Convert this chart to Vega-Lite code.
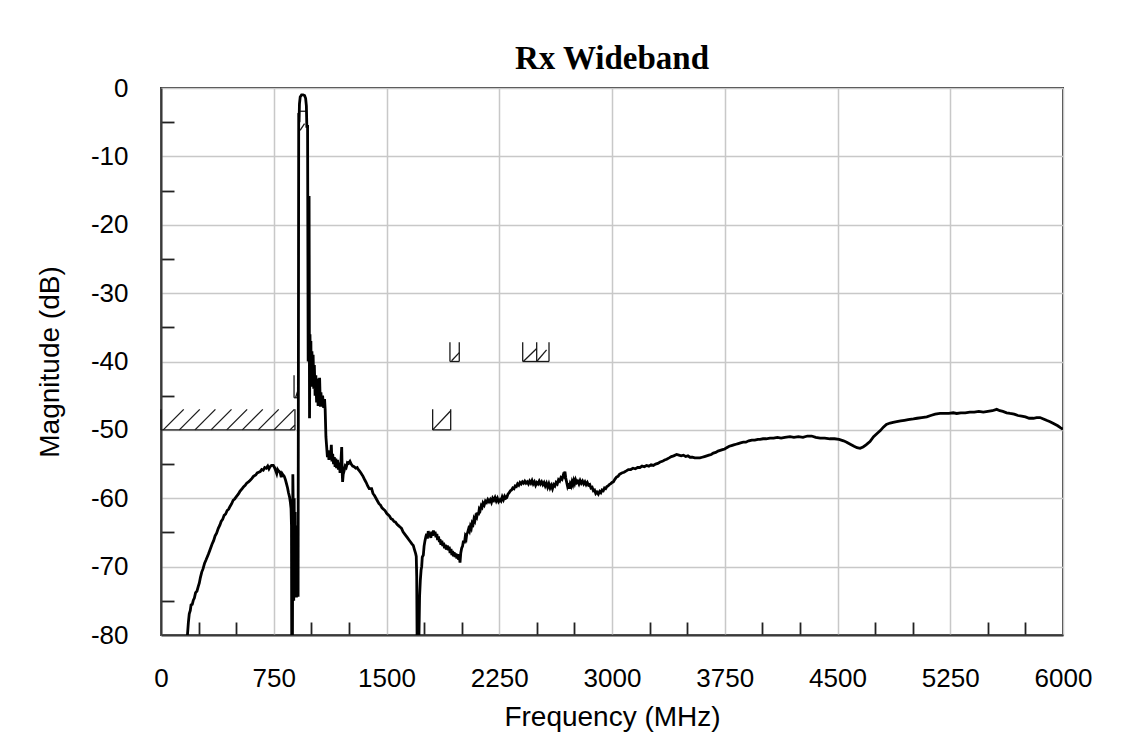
{
  "$schema": "https://vega.github.io/schema/vega-lite/v6.json",
  "width": 902,
  "height": 547,
  "autosize": {"type": "none"},
  "padding": {"left": 161, "top": 88, "right": 63, "bottom": 121},
  "background": "white",
  "title": {"text": "Rx Wideband", "font": "Liberation Serif", "fontSize": 33, "fontWeight": "bold", "color": "black", "anchor": "middle", "frame": "group", "offset": -1},
  "config": {
    "view": {"stroke": "#3a3a3a", "strokeWidth": 2},
    "axis": {
      "domainColor": "#3a3a3a", "domainWidth": 2,
      "gridColor": "#c8c8c8", "gridWidth": 1.5,
      "tickColor": "#222222", "tickWidth": 1.8, "tickSize": -13,
      "labelFont": "Liberation Sans", "labelFontSize": 26, "labelColor": "black",
      "labelOverlap": false, "labelFlush": false,
      "titleFont": "Liberation Sans", "titleFontSize": 28, "titleFontWeight": "normal", "titleColor": "black"
    }
  },
  "datasets": {
    "trace": [
      {"f":165,"m":-84},{"f":175,"m":-80.3},{"f":182,"m":-78.2},{"f":188,"m":-76.9},{"f":195,"m":-76.4},{"f":200,"m":-75.6},{"f":208,"m":-75.5},{"f":215,"m":-74.9},{"f":222,"m":-74.6},{"f":230,"m":-73.8},{"f":239,"m":-73.6},{"f":248,"m":-72.9},{"f":255,"m":-72.4},{"f":262,"m":-71.6},{"f":271,"m":-70.8},{"f":280,"m":-70.3},{"f":290,"m":-69.5},{"f":300,"m":-69.0},{"f":315,"m":-68.2},{"f":325,"m":-67.6},{"f":340,"m":-66.7},{"f":350,"m":-66.2},{"f":360,"m":-65.5},{"f":370,"m":-65.1},{"f":381,"m":-64.4},{"f":392,"m":-63.9},{"f":400,"m":-63.4},{"f":410,"m":-63.1},{"f":420,"m":-62.5},{"f":430,"m":-62.3},{"f":440,"m":-61.8},{"f":450,"m":-61.6},{"f":459,"m":-61.2},{"f":470,"m":-60.8},{"f":480,"m":-60.3},{"f":490,"m":-60.1},{"f":500,"m":-59.8},{"f":514,"m":-59.4},{"f":525,"m":-59.0},{"f":540,"m":-58.6},{"f":550,"m":-58.3},{"f":560,"m":-58.1},{"f":570,"m":-57.8},{"f":582,"m":-57.6},{"f":592,"m":-57.4},{"f":605,"m":-57.1},{"f":615,"m":-56.8},{"f":630,"m":-56.6},{"f":640,"m":-56.3},{"f":650,"m":-56.2},{"f":660,"m":-56.1},{"f":670,"m":-55.8},{"f":680,"m":-55.9},{"f":690,"m":-55.5},{"f":700,"m":-55.6},{"f":710,"m":-55.3},{"f":718,"m":-55.7},{"f":725,"m":-55.4},{"f":735,"m":-55.2},{"f":747,"m":-55.2},{"f":755,"m":-55.5},{"f":762,"m":-55.9},{"f":770,"m":-56.4},{"f":776,"m":-55.8},{"f":782,"m":-56.0},{"f":792,"m":-56.2},{"f":800,"m":-56.9},{"f":806,"m":-56.4},{"f":812,"m":-56.6},{"f":820,"m":-56.8},{"f":828,"m":-57.3},{"f":835,"m":-57.9},{"f":842,"m":-58.5},{"f":848,"m":-59.2},{"f":855,"m":-59.8},{"f":860,"m":-60.5},{"f":865,"m":-61.5},{"f":868,"m":-64},{"f":870,"m":-86},{"f":874,"m":-86},{"f":877,"m":-56.5},{"f":880,"m":-62},{"f":883,"m":-75},{"f":886,"m":-60},{"f":889,"m":-74.5},{"f":892,"m":-62},{"f":895,"m":-74.5},{"f":898,"m":-64},{"f":901,"m":-74.5},{"f":904,"m":-66},{"f":907,"m":-73.5},{"f":910,"m":-66},{"f":912,"m":-74.4},{"f":914,"m":-40},{"f":916,"m":-4.3},{"f":919,"m":-4.4},{"f":921,"m":-2.3},{"f":926,"m":-1.3},{"f":935,"m":-1.0},{"f":945,"m":-1.0},{"f":955,"m":-1.1},{"f":962,"m":-1.5},{"f":967,"m":-2.6},{"f":970,"m":-5.6},{"f":975,"m":-5.6},{"f":979,"m":-40},{"f":983,"m":-19.3},{"f":985,"m":-15.8},{"f":988,"m":-48.3},{"f":991,"m":-36},{"f":994,"m":-40.5},{"f":997,"m":-37},{"f":1000,"m":-43.7},{"f":1004,"m":-38.5},{"f":1008,"m":-42},{"f":1012,"m":-39},{"f":1016,"m":-44},{"f":1020,"m":-40.5},{"f":1025,"m":-45},{"f":1030,"m":-42},{"f":1035,"m":-46},{"f":1040,"m":-42.5},{"f":1045,"m":-46.5},{"f":1050,"m":-43.5},{"f":1055,"m":-42.4},{"f":1060,"m":-46.6},{"f":1064,"m":-44.5},{"f":1069,"m":-46.6},{"f":1075,"m":-45},{"f":1082,"m":-46.8},{"f":1088,"m":-45.5},{"f":1092,"m":-47},{"f":1097,"m":-51},{"f":1102,"m":-52.5},{"f":1107,"m":-54},{"f":1112,"m":-53},{"f":1117,"m":-54.4},{"f":1122,"m":-53.2},{"f":1128,"m":-54.3},{"f":1133,"m":-52.2},{"f":1137,"m":-54.6},{"f":1142,"m":-53.5},{"f":1148,"m":-55},{"f":1153,"m":-54},{"f":1158,"m":-55.4},{"f":1163,"m":-54.2},{"f":1168,"m":-55.6},{"f":1174,"m":-54.4},{"f":1180,"m":-55.8},{"f":1186,"m":-54.8},{"f":1191,"m":-56.3},{"f":1196,"m":-55},{"f":1202,"m":-52.5},{"f":1205,"m":-56},{"f":1208,"m":-57.6},{"f":1212,"m":-56.5},{"f":1218,"m":-56},{"f":1225,"m":-55.3},{"f":1232,"m":-55.5},{"f":1240,"m":-54.8},{"f":1248,"m":-54.9},{"f":1257,"m":-54.6},{"f":1265,"m":-55.0},{"f":1275,"m":-55.3},{"f":1285,"m":-55.4},{"f":1295,"m":-55.6},{"f":1305,"m":-55.5},{"f":1312,"m":-55.8},{"f":1320,"m":-56.0},{"f":1330,"m":-56.3},{"f":1344,"m":-56.8},{"f":1355,"m":-57.3},{"f":1365,"m":-57.7},{"f":1375,"m":-58.2},{"f":1385,"m":-58.6},{"f":1401,"m":-58.6},{"f":1410,"m":-59.3},{"f":1420,"m":-59.6},{"f":1430,"m":-60.0},{"f":1440,"m":-60.4},{"f":1450,"m":-60.8},{"f":1460,"m":-61.0},{"f":1470,"m":-61.4},{"f":1480,"m":-61.6},{"f":1490,"m":-61.8},{"f":1501,"m":-62.2},{"f":1510,"m":-62.4},{"f":1520,"m":-62.6},{"f":1530,"m":-63.0},{"f":1540,"m":-63.1},{"f":1550,"m":-63.4},{"f":1560,"m":-63.5},{"f":1570,"m":-63.8},{"f":1580,"m":-64.0},{"f":1590,"m":-64.2},{"f":1600,"m":-64.4},{"f":1610,"m":-64.9},{"f":1620,"m":-65.2},{"f":1630,"m":-65.5},{"f":1640,"m":-65.8},{"f":1650,"m":-66.1},{"f":1660,"m":-66.4},{"f":1670,"m":-66.7},{"f":1678,"m":-66.9},{"f":1686,"m":-67.5},{"f":1694,"m":-68.1},{"f":1698,"m":-68.5},{"f":1701,"m":-71.5},{"f":1705,"m":-86},{"f":1710,"m":-86},{"f":1716,"m":-80},{"f":1720,"m":-74.4},{"f":1725,"m":-72},{"f":1730,"m":-70.5},{"f":1734,"m":-70},{"f":1738,"m":-68.6},{"f":1745,"m":-68.3},{"f":1750,"m":-67},{"f":1756,"m":-66.2},{"f":1762,"m":-65.6},{"f":1767,"m":-65.2},{"f":1772,"m":-65.9},{"f":1778,"m":-64.8},{"f":1784,"m":-65.6},{"f":1789,"m":-65.1},{"f":1795,"m":-65.8},{"f":1800,"m":-64.9},{"f":1806,"m":-65.5},{"f":1812,"m":-64.7},{"f":1818,"m":-65.4},{"f":1823,"m":-64.9},{"f":1829,"m":-65.7},{"f":1835,"m":-65.2},{"f":1840,"m":-66.1},{"f":1846,"m":-65.6},{"f":1852,"m":-66.4},{"f":1856,"m":-66.0},{"f":1862,"m":-66.8},{"f":1868,"m":-66.2},{"f":1874,"m":-67.0},{"f":1880,"m":-66.5},{"f":1886,"m":-67.3},{"f":1892,"m":-66.8},{"f":1898,"m":-67.5},{"f":1905,"m":-66.9},{"f":1911,"m":-67.6},{"f":1917,"m":-67.1},{"f":1923,"m":-68.0},{"f":1929,"m":-67.4},{"f":1935,"m":-68.3},{"f":1940,"m":-67.7},{"f":1945,"m":-68.5},{"f":1950,"m":-67.9},{"f":1956,"m":-68.6},{"f":1962,"m":-68.1},{"f":1968,"m":-68.8},{"f":1974,"m":-68.2},{"f":1980,"m":-69.0},{"f":1984,"m":-68.4},{"f":1989,"m":-69.4},{"f":1994,"m":-68.0},{"f":2000,"m":-67.3},{"f":2006,"m":-67.0},{"f":2012,"m":-66.2},{"f":2018,"m":-66.6},{"f":2024,"m":-65.6},{"f":2030,"m":-65.9},{"f":2034,"m":-65.2},{"f":2040,"m":-65.0},{"f":2046,"m":-64.5},{"f":2052,"m":-64.8},{"f":2058,"m":-64.1},{"f":2064,"m":-64.4},{"f":2070,"m":-63.6},{"f":2076,"m":-63.8},{"f":2082,"m":-63.0},{"f":2088,"m":-63.3},{"f":2094,"m":-62.6},{"f":2100,"m":-62.8},{"f":2106,"m":-62.1},{"f":2111,"m":-62.5},{"f":2117,"m":-61.6},{"f":2123,"m":-61.8},{"f":2130,"m":-61.1},{"f":2136,"m":-61.3},{"f":2142,"m":-60.7},{"f":2150,"m":-61.0},{"f":2158,"m":-60.4},{"f":2166,"m":-60.6},{"f":2174,"m":-60.2},{"f":2182,"m":-60.5},{"f":2190,"m":-60.2},{"f":2198,"m":-60.6},{"f":2206,"m":-60.0},{"f":2214,"m":-60.3},{"f":2222,"m":-59.9},{"f":2230,"m":-60.4},{"f":2238,"m":-60.0},{"f":2246,"m":-60.5},{"f":2255,"m":-60.2},{"f":2262,"m":-60.4},{"f":2270,"m":-59.8},{"f":2278,"m":-60.2},{"f":2286,"m":-59.7},{"f":2294,"m":-60.0},{"f":2300,"m":-59.9},{"f":2308,"m":-59.4},{"f":2316,"m":-59.2},{"f":2324,"m":-58.9},{"f":2332,"m":-58.8},{"f":2340,"m":-58.5},{"f":2348,"m":-58.6},{"f":2356,"m":-58.2},{"f":2364,"m":-58.3},{"f":2372,"m":-57.9},{"f":2380,"m":-58.1},{"f":2388,"m":-57.7},{"f":2396,"m":-57.9},{"f":2404,"m":-57.6},{"f":2412,"m":-57.8},{"f":2420,"m":-57.5},{"f":2428,"m":-57.8},{"f":2436,"m":-57.6},{"f":2444,"m":-57.9},{"f":2452,"m":-57.5},{"f":2460,"m":-57.8},{"f":2468,"m":-57.4},{"f":2476,"m":-57.9},{"f":2484,"m":-57.6},{"f":2492,"m":-58.1},{"f":2500,"m":-57.7},{"f":2508,"m":-57.9},{"f":2516,"m":-57.5},{"f":2524,"m":-57.9},{"f":2532,"m":-57.6},{"f":2540,"m":-58.0},{"f":2548,"m":-57.7},{"f":2556,"m":-58.2},{"f":2564,"m":-57.8},{"f":2572,"m":-58.4},{"f":2580,"m":-57.9},{"f":2588,"m":-58.5},{"f":2596,"m":-58.1},{"f":2604,"m":-58.6},{"f":2612,"m":-58.0},{"f":2620,"m":-58.2},{"f":2628,"m":-57.7},{"f":2636,"m":-57.9},{"f":2644,"m":-57.3},{"f":2652,"m":-57.5},{"f":2660,"m":-57.0},{"f":2668,"m":-57.2},{"f":2676,"m":-56.6},{"f":2682,"m":-56.8},{"f":2687,"m":-56.1},{"f":2692,"m":-57.0},{"f":2698,"m":-57.6},{"f":2704,"m":-58.2},{"f":2710,"m":-57.8},{"f":2716,"m":-58.6},{"f":2722,"m":-57.9},{"f":2728,"m":-58.2},{"f":2734,"m":-57.6},{"f":2740,"m":-58.0},{"f":2746,"m":-57.4},{"f":2752,"m":-57.8},{"f":2758,"m":-57.3},{"f":2765,"m":-57.7},{"f":2772,"m":-57.5},{"f":2780,"m":-57.9},{"f":2788,"m":-57.4},{"f":2796,"m":-57.8},{"f":2804,"m":-57.5},{"f":2812,"m":-57.9},{"f":2820,"m":-57.6},{"f":2828,"m":-58.0},{"f":2836,"m":-57.7},{"f":2844,"m":-58.1},{"f":2852,"m":-58.0},{"f":2860,"m":-58.5},{"f":2868,"m":-58.4},{"f":2876,"m":-58.9},{"f":2884,"m":-58.8},{"f":2892,"m":-59.3},{"f":2900,"m":-59.1},{"f":2909,"m":-59.4},{"f":2918,"m":-59.0},{"f":2926,"m":-59.2},{"f":2934,"m":-58.8},{"f":2942,"m":-58.9},{"f":2950,"m":-58.5},{"f":2958,"m":-58.6},{"f":2966,"m":-58.3},{"f":2974,"m":-58.2},{"f":2982,"m":-58.0},{"f":2990,"m":-57.9},{"f":3000,"m":-57.7},{"f":3009,"m":-57.6},{"f":3020,"m":-57.2},{"f":3030,"m":-56.9},{"f":3040,"m":-56.8},{"f":3050,"m":-56.5},{"f":3065,"m":-56.3},{"f":3080,"m":-56.2},{"f":3095,"m":-56.0},{"f":3109,"m":-55.8},{"f":3125,"m":-55.8},{"f":3140,"m":-55.6},{"f":3155,"m":-55.7},{"f":3170,"m":-55.5},{"f":3186,"m":-55.5},{"f":3200,"m":-55.3},{"f":3215,"m":-55.4},{"f":3230,"m":-55.2},{"f":3245,"m":-55.3},{"f":3260,"m":-55.1},{"f":3275,"m":-55.2},{"f":3290,"m":-55.0},{"f":3305,"m":-54.9},{"f":3320,"m":-54.7},{"f":3335,"m":-54.6},{"f":3350,"m":-54.4},{"f":3364,"m":-54.3},{"f":3380,"m":-54.1},{"f":3395,"m":-53.9},{"f":3410,"m":-53.8},{"f":3430,"m":-53.6},{"f":3445,"m":-53.7},{"f":3460,"m":-53.8},{"f":3475,"m":-53.7},{"f":3490,"m":-53.9},{"f":3505,"m":-53.8},{"f":3519,"m":-54.0},{"f":3535,"m":-54.0},{"f":3550,"m":-54.1},{"f":3565,"m":-54.1},{"f":3585,"m":-54.1},{"f":3600,"m":-54.0},{"f":3615,"m":-53.9},{"f":3630,"m":-53.8},{"f":3645,"m":-53.7},{"f":3660,"m":-53.6},{"f":3674,"m":-53.4},{"f":3690,"m":-53.3},{"f":3705,"m":-53.1},{"f":3720,"m":-53.0},{"f":3735,"m":-52.9},{"f":3750,"m":-52.8},{"f":3763,"m":-52.6},{"f":3780,"m":-52.4},{"f":3795,"m":-52.3},{"f":3810,"m":-52.2},{"f":3825,"m":-52.1},{"f":3840,"m":-52.0},{"f":3855,"m":-51.9},{"f":3873,"m":-51.8},{"f":3890,"m":-51.8},{"f":3910,"m":-51.6},{"f":3930,"m":-51.5},{"f":3950,"m":-51.5},{"f":3970,"m":-51.4},{"f":3985,"m":-51.4},{"f":4005,"m":-51.3},{"f":4025,"m":-51.3},{"f":4051,"m":-51.2},{"f":4075,"m":-51.2},{"f":4100,"m":-51.1},{"f":4125,"m":-51.2},{"f":4150,"m":-51.1},{"f":4184,"m":-51.0},{"f":4210,"m":-51.1},{"f":4240,"m":-51.0},{"f":4270,"m":-51.1},{"f":4300,"m":-50.9},{"f":4328,"m":-50.9},{"f":4355,"m":-51.1},{"f":4385,"m":-51.2},{"f":4415,"m":-51.2},{"f":4450,"m":-51.3},{"f":4480,"m":-51.3},{"f":4510,"m":-51.4},{"f":4540,"m":-51.6},{"f":4561,"m":-51.8},{"f":4585,"m":-52.1},{"f":4610,"m":-52.4},{"f":4630,"m":-52.6},{"f":4650,"m":-52.7},{"f":4670,"m":-52.5},{"f":4690,"m":-52.2},{"f":4716,"m":-51.7},{"f":4740,"m":-51.0},{"f":4765,"m":-50.5},{"f":4785,"m":-50.1},{"f":4805,"m":-49.6},{"f":4825,"m":-49.2},{"f":4850,"m":-49.0},{"f":4870,"m":-48.9},{"f":4894,"m":-48.8},{"f":4920,"m":-48.7},{"f":4945,"m":-48.6},{"f":4970,"m":-48.5},{"f":5005,"m":-48.4},{"f":5030,"m":-48.3},{"f":5060,"m":-48.2},{"f":5094,"m":-48.1},{"f":5120,"m":-47.9},{"f":5150,"m":-47.7},{"f":5182,"m":-47.6},{"f":5210,"m":-47.6},{"f":5240,"m":-47.6},{"f":5270,"m":-47.5},{"f":5293,"m":-47.6},{"f":5320,"m":-47.5},{"f":5350,"m":-47.5},{"f":5380,"m":-47.4},{"f":5410,"m":-47.4},{"f":5440,"m":-47.3},{"f":5470,"m":-47.4},{"f":5500,"m":-47.3},{"f":5530,"m":-47.2},{"f":5559,"m":-47.0},{"f":5580,"m":-47.2},{"f":5600,"m":-47.3},{"f":5625,"m":-47.5},{"f":5648,"m":-47.6},{"f":5675,"m":-47.7},{"f":5700,"m":-47.9},{"f":5725,"m":-48.0},{"f":5750,"m":-48.1},{"f":5775,"m":-48.3},{"f":5803,"m":-48.3},{"f":5825,"m":-48.2},{"f":5847,"m":-48.2},{"f":5870,"m":-48.4},{"f":5890,"m":-48.6},{"f":5914,"m":-48.8},{"f":5940,"m":-49.1},{"f":5965,"m":-49.4},{"f":5985,"m":-49.7},{"f":6000,"m":-49.9}
    ],
    "mask": [
      {"f":0,"m":-50,"f2":891,"m2":-50},{"f":0,"m":-50,"f2":0,"m2":-47},{"f":891,"m":-50,"f2":891,"m2":-47},
      {"f":15,"m":-50,"f2":151,"m2":-47},{"f":122,"m":-50,"f2":258,"m2":-47},{"f":226,"m":-50,"f2":362,"m2":-47},{"f":333,"m":-50,"f2":469,"m2":-47},{"f":437,"m":-50,"f2":573,"m2":-47},{"f":541,"m":-50,"f2":677,"m2":-47},{"f":647,"m":-50,"f2":783,"m2":-47},{"f":751,"m":-50,"f2":887,"m2":-47},{"f":858,"m":-50,"f2":891,"m2":-49.3},
      {"f":885,"m":-45.3,"f2":885,"m2":-42},{"f":885,"m":-45.3,"f2":914,"m2":-45.3},{"f":895,"m":-45.3,"f2":914,"m2":-44},
      {"f":925,"m":-3.4,"f2":965,"m2":-3.4},{"f":925,"m":-6.2,"f2":955,"m2":-5.2},
      {"f":1807,"m":-50,"f2":1927,"m2":-50},{"f":1807,"m":-50,"f2":1807,"m2":-47},{"f":1927,"m":-50,"f2":1927,"m2":-47},{"f":1807,"m":-50,"f2":1927,"m2":-47.2},
      {"f":1922,"m":-40,"f2":1984,"m2":-40},{"f":1922,"m":-40,"f2":1922,"m2":-37.2},{"f":1984,"m":-40,"f2":1984,"m2":-37.2},{"f":1933,"m":-39.9,"f2":1984,"m2":-38.7},
      {"f":2406,"m":-40,"f2":2581,"m2":-40},{"f":2406,"m":-40,"f2":2406,"m2":-37.2},{"f":2499,"m":-40,"f2":2499,"m2":-37.2},{"f":2581,"m":-40,"f2":2581,"m2":-37.2},{"f":2410,"m":-40,"f2":2499,"m2":-38.1},{"f":2499,"m":-40,"f2":2565,"m2":-38.3}
    ]
  },
  "encoding": {
    "x": {"field": "f", "type": "quantitative",
      "scale": {"domain": [0, 6000], "nice": false, "zero": false},
      "axis": {"title": "Frequency (MHz)",
        "values": [0,250,500,750,1000,1250,1500,1750,2000,2250,2500,2750,3000,3250,3500,3750,4000,4250,4500,4750,5000,5250,5500,5750,6000],
        "labelExpr": "datum.value % 750 === 0 ? '' + datum.value : ''",
        "gridOpacity": {"condition": {"test": "datum.value % 750 === 0", "value": 1}, "value": 0},
        "tickOpacity": {"condition": {"test": "datum.value % 750 === 0", "value": 0}, "value": 1},
        "labelPadding": 43, "titlePadding": 12}},
    "y": {"field": "m", "type": "quantitative",
      "scale": {"domain": [-80, 0], "nice": false, "zero": false},
      "axis": {"title": "Magnitude (dB)",
        "values": [-80,-75,-70,-65,-60,-55,-50,-45,-40,-35,-30,-25,-20,-15,-10,-5,0],
        "labelExpr": "datum.value % 10 === 0 ? '' + datum.value : ''",
        "gridOpacity": {"condition": {"test": "datum.value % 10 === 0", "value": 1}, "value": 0},
        "tickOpacity": {"condition": {"test": "datum.value % 10 === 0", "value": 0}, "value": 1},
        "labelPadding": 46, "titlePadding": 26}}
  },
  "layer": [
    {"data": {"name": "mask"}, "mark": {"type": "rule", "color": "#1a1a1a", "strokeWidth": 1.3},
      "encoding": {"x2": {"field": "f2"}, "y2": {"field": "m2"}}},
    {"data": {"name": "trace"}, "mark": {"type": "line", "color": "black", "strokeWidth": 2.8, "clip": true, "interpolate": "linear"}}
  ]
}
